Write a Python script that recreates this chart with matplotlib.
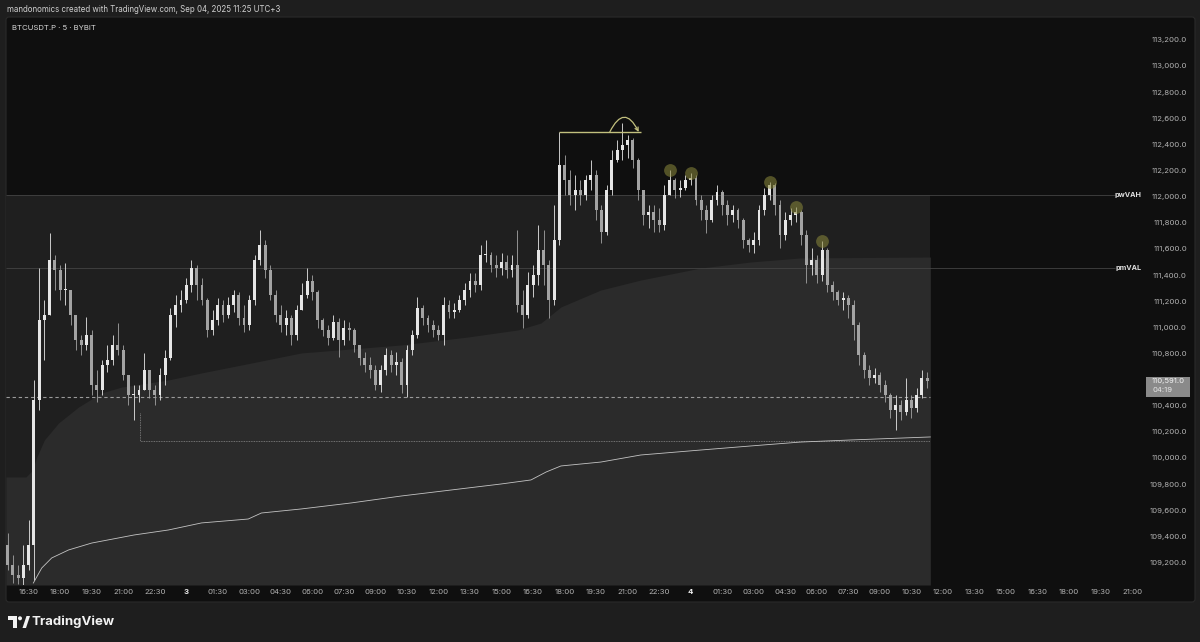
import numpy as np
import matplotlib.pyplot as plt
import matplotlib.transforms as mtransforms
from matplotlib.patches import FancyBboxPatch, Rectangle, Polygon, Circle

# --- styling ---
plt.rcParams['font.family'] = ['Inter', 'DejaVu Sans']
BG_OUTER = '#1e1e1e'
BG_CHART = '#0f0f0f'
BOX_UPPER = '#1f1f1f'
BOX_LOWER = '#2b2b2b'
UP_COLOR = '#e6e6e6'
DOWN_COLOR = '#a3a3a3'
AXIS_TEXT = '#b2b2b2'
MARK_COLOR = '#c2c07e'

# --- data: BTCUSDT.P, 15-minute candles from Sep 2 15:30 to Sep 4 11:15 ---
FIRST_OPEN = 109334
CLOSES = [
    109181, 109105, 109081, 109181, 109334, 110444, 111056, 111094, 111515, 111439,
    111286, 111286, 111094, 110903, 110865, 110941, 110559, 110520, 110712, 110750,
    110865, 110827, 110635, 110482, 110482, 110520, 110673, 110520, 110482, 110635,
    110765, 111094, 111171, 111209, 111324, 111454, 111324, 111209, 110980, 111056,
    111171, 111094, 111171, 111248, 111071, 111018, 111209, 111515, 111630, 111439,
    111248, 111094, 111018, 111071, 110941, 111133, 111248, 111355, 111271, 111056,
    110980, 110918, 111041, 110903, 110995, 110980, 110865, 110765, 110712, 110673,
    110559, 110673, 110788, 110712, 110735, 110559, 110827, 110941, 111148, 111071,
    111018, 110980, 110941, 111171, 111117, 111133, 111209, 111286, 111355, 111324,
    111554, 111554, 111477, 111454, 111500, 111439, 111477, 111171, 111094, 111324,
    111401, 111592, 111477, 111209, 111669, 112243, 112128, 112013, 112051, 112013,
    112128, 112166, 111898, 111730, 112051, 112281, 112357, 112396, 112434, 112281,
    112051, 111860, 111883, 111822, 111783, 112013, 112128, 112051, 112067, 112128,
    112143, 111975, 111898, 111822, 111975, 112036, 111936, 111860, 111898, 111822,
    111669, 111630, 111669, 111898, 112013, 112090, 111936, 111707, 111822, 111860,
    111883, 111707, 111477, 111515, 111401, 111592, 111324, 111271, 111209, 111225,
    111171, 111018, 110788, 110673, 110612, 110635, 110559, 110482, 110367, 110406,
    110352, 110444, 110383, 110482, 110612, 110591,
]
HIGHS = [
    109426, 109258, 109181, 109334, 109526, 110597, 111454, 111209, 111722, 111554,
    111477, 111493, 111286, 111056, 110941, 111079, 110980, 110673, 110750, 110865,
    110941, 111033, 110865, 110597, 110559, 110559, 110804, 110673, 110559, 110689,
    110827, 111148, 111248, 111286, 111378, 111515, 111477, 111378, 111225, 111133,
    111225, 111209, 111232, 111286, 111271, 111171, 111248, 111554, 111745, 111669,
    111477, 111286, 111171, 111133, 111094, 111171, 111339, 111454, 111401, 111286,
    111071, 111018, 111094, 111071, 111056, 111041, 110995, 110865, 110811, 110773,
    110712, 110712, 110842, 110827, 110811, 110765, 110865, 110980, 111232, 111171,
    111094, 111056, 111018, 111232, 111209, 111186, 111248, 111339, 111416, 111416,
    111630, 111669, 111577, 111554, 111569, 111554, 111554, 111745, 111286, 111424,
    111477, 111783, 111745, 111515, 111936, 112495, 112319, 112204, 112166, 112128,
    112166, 112281, 112204, 111936, 112090, 112357, 112434, 112564, 112472, 112449,
    112296, 112051, 111936, 111936, 111913, 112090, 112204, 112143, 112128, 112166,
    112181, 112166, 112013, 111936, 112013, 112090, 112051, 111975, 111936, 111913,
    111837, 111684, 111730, 111936, 112067, 112110, 112105, 111975, 111883, 111913,
    111921, 111898, 111745, 111607, 111554, 111661, 111607, 111355, 111286, 111271,
    111248, 111209, 111041, 110811, 110712, 110689, 110658, 110597, 110498, 110482,
    110444, 110612, 110482, 110536, 110673, 110658,
]
LOWS = [
    109143, 109043, 109035, 109030, 109143, 109066, 110367, 110750, 111133, 111286,
    111209, 111171, 111018, 110827, 110788, 110827, 110482, 110429, 110482, 110658,
    110712, 110788, 110597, 110406, 110291, 110429, 110559, 110459, 110406, 110444,
    110559, 110750, 111003, 111117, 111186, 111271, 111209, 111171, 110926, 110941,
    111018, 111041, 111071, 111117, 111018, 110964, 110980, 111171, 111477, 111378,
    111209, 111041, 110964, 110941, 110865, 110903, 111133, 111225, 111209, 110995,
    110934, 110865, 110903, 110773, 110865, 110903, 110811, 110712, 110658, 110612,
    110520, 110505, 110635, 110658, 110635, 110498, 110467, 110788, 110918, 111018,
    110964, 110926, 110903, 110865, 111071, 111071, 111117, 111171, 111232, 111271,
    111286, 111500, 111424, 111386, 111401, 111378, 111386, 111117, 110995, 111071,
    111232, 111324, 111324, 111071, 111171, 111630, 112013, 111936, 111898, 111936,
    111975, 112051, 111822, 111646, 111707, 112013, 112266, 112281, 112296, 112220,
    111975, 111783, 111760, 111730, 111730, 111745, 112013, 111990, 111998, 112051,
    112090, 111936, 111822, 111722, 111806, 111936, 111860, 111783, 111806, 111760,
    111607, 111577, 111569, 111630, 111860, 111975, 111860, 111607, 111669, 111783,
    111806, 111630, 111339, 111401, 111339, 111355, 111271, 111209, 111171, 111133,
    111071, 110903, 110712, 110612, 110559, 110574, 110505, 110429, 110306, 110214,
    110291, 110329, 110306, 110352, 110459, 110536,
]

# session VWAP (candle index, price)
VWAP_IDX = [4.9, 6.5, 8.4, 11.6, 16.0, 24.1, 30.6, 36.9, 45.8, 48.3, 55.9, 65.4, 74.9,
            84.4, 93.9, 99.6, 102.5, 105.3, 112.9, 120.5, 131.9, 141.4, 150.9, 160.5, 175.6]
VWAP_PRICE = [109043, 109158, 109235, 109296, 109349, 109411, 109449, 109503, 109533,
              109579, 109610, 109656, 109709, 109755, 109801, 109832, 109893, 109939,
              109969, 110023, 110061, 110092, 110122, 110138, 110161]

# developing profile boundary inside the value box
PROFILE_IDX = [-0.3, 3.5, 4.6, 5.6, 7.0, 9.7, 13.5, 17.9, 21.7, 30.6, 36.9, 46.4, 55.9, 74.9,
               87.6, 97.1, 101.5, 105.3, 112.9, 120.5, 131.9, 141.4, 150.9, 175.6]
PROFILE_PRICE = [109855, 109855, 109900, 110010, 110138, 110268, 110390, 110498, 110543,
                 110597, 110651, 110727, 110804, 110865, 110926, 110980, 111033, 111156,
                 111286, 111362, 111454, 111500, 111531, 111538]

PW_VAH = 112013
PM_VAL = 111452
DASH_LEVEL = 110469
DOT_LEVEL = 110130
DOT_TOP = 110344
DOT_START = 25.2
BOX_RIGHT = 175.6
LEVEL_RIGHT = 210.7

SWING_IDX = [126, 130, 145, 150, 155]     # marked lower highs
SWEEP_FROM, SWEEP_TO = 105, 120.5        # swing high line
ARC_FROM, ARC_TO = 114.6, 120.1

PRICE_TICKS = [109200, 109400, 109600, 109800, 110000, 110200, 110400, 110600, 110800,
               111000, 111200, 111400, 111600, 111800, 112000, 112200, 112400, 112600,
               112800, 113000, 113200]
TIME_LABELS = ['16:30', '18:00', '19:30', '21:00', '22:30', '3', '01:30', '03:00', '04:30',
               '06:00', '07:30', '09:00', '10:30', '12:00', '13:30', '15:00', '16:30', '18:00',
               '19:30', '21:00', '22:30', '4', '01:30', '03:00', '04:30', '06:00', '07:30',
               '09:00', '10:30', '12:00', '13:30', '15:00', '16:30', '18:00', '19:30', '21:00']

Y_MIN, Y_MAX = 109028, 113375

fig = plt.figure(figsize=(12, 6.42), dpi=100, facecolor=BG_OUTER)

# pixel-space layer for frame, header and footer
deco = fig.add_axes([0, 0, 1, 1], zorder=0)
deco.set_xlim(0, 1200)
deco.set_ylim(642, 0)
deco.axis('off')
deco.add_patch(FancyBboxPatch((6, 17), 1189, 585, boxstyle='round,pad=0,rounding_size=3',
                              facecolor=BG_CHART, edgecolor='#2a2a2a', linewidth=0.8))
deco.text(7, 9, 'mandonomics created with TradingView.com, Sep 04, 2025 11:25 UTC+3',
          color='#d0d0d0', fontsize=5.7, va='center')
deco.text(12, 27.5, 'BTCUSDT.P · 5 · BYBIT', color='#d8d8d8', fontsize=5.6, va='center')
deco.text(32, 622, 'TradingView', color='#f2f2f2', fontsize=9.5, fontweight='bold', va='center')
deco.add_patch(Polygon([[8, 616], [17, 616], [17, 628], [13, 628], [13, 620], [8, 620]],
                       color='#f2f2f2', lw=0))
deco.add_patch(Circle((20, 618.3), 2, color='#f2f2f2', lw=0))
deco.add_patch(Polygon([[22.5, 628], [26.5, 616], [30, 616], [26, 628]], color='#f2f2f2', lw=0))

# main chart
ax = fig.add_axes([6 / 1200, (642 - 585) / 642, (1140 - 6) / 1200, (585 - 17) / 642], zorder=1)
ax.set_facecolor('none')
ax.set_xlim(-0.3, 215.5)
ax.set_ylim(Y_MIN, Y_MAX)
trans = mtransforms.blended_transform_factory(ax.transAxes, ax.transData)

# value box + developing profile
ax.fill_between([-0.3, BOX_RIGHT], Y_MIN, PW_VAH, color=BOX_UPPER, lw=0, zorder=1)
ax.fill_between(PROFILE_IDX, Y_MIN, PROFILE_PRICE, color=BOX_LOWER, lw=0, zorder=1.1)

# levels
ax.hlines([PW_VAH, PM_VAL], -0.3, LEVEL_RIGHT, color='#434343', lw=0.6, zorder=2)
ax.hlines(DASH_LEVEL, -0.3, BOX_RIGHT, color='#9a9a9a', lw=0.8, linestyles=(0, (3, 2.5)), zorder=3)
ax.plot([DOT_START, DOT_START, BOX_RIGHT], [DOT_TOP, DOT_LEVEL, DOT_LEVEL],
        color='#8a8a8a', lw=0.6, ls=(0, (1, 1)), zorder=3)
ax.text(1.001, PW_VAH, 'pwVAH', transform=trans, ha='right', va='center',
        fontsize=5.2, fontweight='bold', color='#e0e0e0', clip_on=False)
ax.text(1.001, PM_VAL, 'pmVAL', transform=trans, ha='right', va='center',
        fontsize=5.2, fontweight='bold', color='#e0e0e0', clip_on=False)

# vwap
ax.plot(VWAP_IDX, VWAP_PRICE, color='#c4c4c4', lw=0.6, zorder=3)

# candles
closes = np.array(CLOSES)
opens = np.r_[FIRST_OPEN, closes[:-1]]
highs = np.maximum(np.array(HIGHS), np.maximum(opens, closes))
lows = np.minimum(np.array(LOWS), np.minimum(opens, closes))
idx = np.arange(len(closes))
colors = np.where(closes >= opens, UP_COLOR, DOWN_COLOR)
ax.vlines(idx, lows, highs, colors=colors, lw=0.6, zorder=4)
ax.bar(idx, np.maximum(np.abs(closes - opens), 8), bottom=np.minimum(opens, closes),
       width=0.55, color=colors, lw=0, zorder=4)

# annotations
ax.scatter(idx[SWING_IDX], highs[SWING_IDX], s=85, color='#8c8a3c', alpha=0.55, lw=0, zorder=5)
sweep = highs[SWEEP_FROM]
ax.hlines(sweep, SWEEP_FROM, SWEEP_TO, color=MARK_COLOR, lw=1, zorder=6)
ax.annotate('', xy=(ARC_TO, sweep), xytext=(ARC_FROM, sweep), zorder=6,
            arrowprops=dict(arrowstyle='->', color=MARK_COLOR, lw=0.9, mutation_scale=6,
                            connectionstyle='arc3,rad=-1.0', shrinkA=0, shrinkB=0))

# last price tag
last = closes[-1]
ax.add_patch(Rectangle((1.0053, last - 122), 0.0388, 152, transform=trans,
                       facecolor='#8a8a8a', lw=0, clip_on=False, zorder=6))
ax.text(1.0106, last, f'{last:,.1f}', transform=trans, fontsize=5.5, color='#f4f4f4',
        va='center', ha='left', clip_on=False, zorder=7)
ax.text(1.0106, last - 70, '04:19', transform=trans, fontsize=5.5, color='#e6e6e6',
        va='center', ha='left', clip_on=False, zorder=7)

# axes
ax.yaxis.tick_right()
ax.set_yticks(PRICE_TICKS)
ax.set_yticklabels([f'{v:,.1f}' for v in PRICE_TICKS])
ax.tick_params(axis='y', length=0, pad=33.8, labelsize=5.6, labelcolor=AXIS_TEXT)
for lab in ax.get_yticklabels():
    lab.set_horizontalalignment('right')

ax.set_xticks([4 + 6 * k for k in range(len(TIME_LABELS))])
ax.set_xticklabels(TIME_LABELS)
ax.tick_params(axis='x', length=0, pad=3, labelsize=5.6, labelcolor=AXIS_TEXT)
for lab in ax.get_xticklabels():
    if lab.get_text() in ('3', '4'):
        lab.set_fontweight('bold')
        lab.set_color('#f0f0f0')

for s in ax.spines.values():
    s.set_visible(False)

fig.savefig('out.png', dpi=100, facecolor=fig.get_facecolor())
